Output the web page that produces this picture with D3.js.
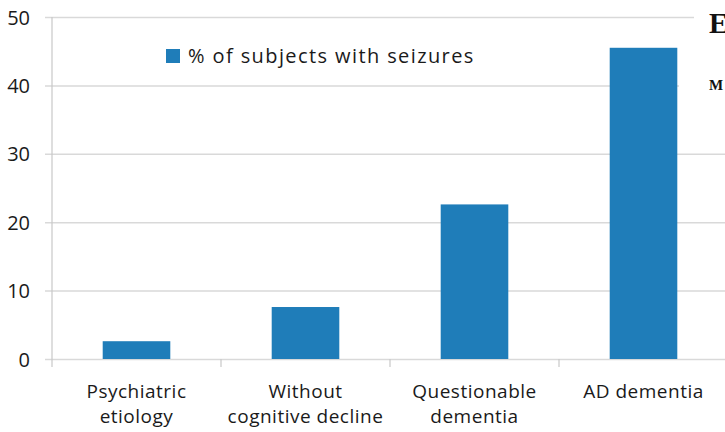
<html>
<style>
    body { margin: 0px; background: #fff; }
    svg { display: block; }
</style>
<body>
    <svg id="viz"></svg>
</body>
<script src="https://d3js.org/d3.v7.min.js"></script>
<script>
var width = 725;
var height = 432;

// data
var categories = [["Psychiatric", "etiology"], ["Without", "cognitive decline"], ["Questionable", "dementia"], ["AD dementia"]];
var values = [2.6, 7.6, 22.6, 45.5];
var yTicks = [0, 10, 20, 30, 40, 50];
var seriesName = "% of subjects with seizures";

var mLeft = 52, mRight = 728, mTop = 17, mBottom = 359;
var font = "'Open Sans', 'Noto Sans', sans-serif";

var svg = d3.select("#viz").attr("width", width).attr("height", height);

var x = d3.scaleBand()
    .domain(d3.range(categories.length))
    .range([mLeft, mRight])
    .paddingInner(0.6)
    .paddingOuter(0.3);

var y = d3.scaleLinear().domain([0, 50]).range([mBottom, mTop]);

// gridlines + y ticks
var yAxis = d3.axisLeft(y).tickValues(yTicks).tickSize(0).tickPadding(0);
var gy = svg.append("g").attr("transform", "translate(" + (mLeft - 7) + ",0)").call(yAxis);
gy.select(".domain").remove();
gy.selectAll(".tick line")
    .attr("x1", 0)
    .attr("x2", mRight - mLeft + 7)
    .attr("stroke", "#d9d9d9")
    .attr("stroke-width", 1.5);
gy.selectAll(".tick text")
    .attr("x", -15)
    .attr("dy", "0.35em")
    .style("font-family", font)
    .style("font-size", "20px")
    .style("fill", "#1a1a1a");

// y axis line
svg.append("line")
    .attr("x1", mLeft).attr("x2", mLeft)
    .attr("y1", mTop).attr("y2", mBottom + 8)
    .attr("stroke", "#c8c8c8").attr("stroke-width", 1.2);

// category boundary ticks
var bounds = d3.range(categories.length).map(function(i) { return x(i) - x.step() * x.paddingInner() / 2; }).slice(1);
svg.selectAll(".ctick").data(bounds).enter().append("line")
    .attr("x1", function(d) { return d; }).attr("x2", function(d) { return d; })
    .attr("y1", mBottom).attr("y2", mBottom + 8)
    .attr("stroke", "#c8c8c8").attr("stroke-width", 1.2);

// bars
svg.selectAll(".bar").data(values).enter().append("rect")
    .attr("x", function(d, i) { return x(i); })
    .attr("width", x.bandwidth())
    .attr("y", function(d) { return y(d); })
    .attr("height", function(d) { return y(0) - y(d); })
    .attr("fill", "#1f7db9");

// category labels
var lab = svg.selectAll(".clab").data(categories).enter().append("text")
    .attr("text-anchor", "middle")
    .style("font-family", font)
    .style("font-size", "19px")
    .style("letter-spacing", "0.5px")
    .style("fill", "#1a1a1a");
lab.each(function(d, i) {
    var t = d3.select(this);
    d.forEach(function(line, j) {
        t.append("tspan")
            .attr("x", x(i) + x.bandwidth() / 2)
            .attr("y", 398 + j * 25)
            .text(line);
    });
});

// legend
svg.append("rect").attr("x", 166).attr("y", 49).attr("width", 14).attr("height", 14).attr("fill", "#1f7db9");
svg.append("text").attr("x", 188).attr("y", 63)
    .style("font-family", font).style("font-size", "20px").style("letter-spacing", "1.4px").style("fill", "#1a1a1a")
    .text(seriesName);

// neighbouring panel text at the right edge
svg.append("rect").attr("x", 694).attr("y", 0).attr("width", 40).attr("height", 40).attr("fill", "#fff");
svg.append("rect").attr("x", 679).attr("y", 70).attr("width", 50).attr("height", 30).attr("fill", "#fff");
svg.append("text").attr("x", 709).attr("y", 33)
    .style("font-family", "'Liberation Serif', serif").style("font-weight", "bold").style("font-size", "29px").style("fill", "#111")
    .text("E");
svg.append("text").attr("x", 709).attr("y", 90)
    .style("font-family", "'Liberation Serif', serif").style("font-weight", "bold").style("font-size", "15px").style("fill", "#111")
    .text("M");
</script>
</html>
